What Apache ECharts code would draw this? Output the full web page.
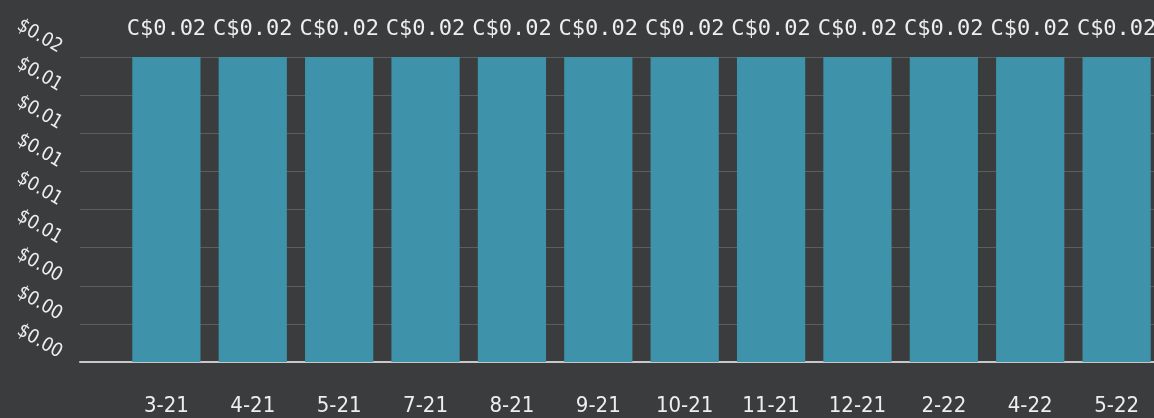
<!DOCTYPE html>
<html style="height: 100%">
<head>
<meta charset="utf-8">
<script src="https://cdn.jsdelivr.net/npm/echarts@6/dist/echarts.min.js"></script>
</head>
<body style="height: 100%; margin: 0; background: #3a3c3d">
<div id="container" style="width: 1154px; height: 418px"></div>
<script type="text/javascript">
// blank slots at both ends, the chart leaves a gap before 3-21 and runs on past 5-22
var months = ['', '3-21', '4-21', '5-21', '7-21', '8-21', '9-21', '10-21', '11-21', '12-21', '2-22', '4-22', '5-22', ''];
var prices = [null, 0.016, 0.016, 0.016, 0.016, 0.016, 0.016, 0.016, 0.016, 0.016, 0.016, 0.016, 0.016, null];

var labelFont = "'DejaVu Sans Condensed', Roboto, sans-serif";

var myChart = echarts.init(document.getElementById('container'));

var option = {
    backgroundColor: '#3a3c3d',
    animation: false,
    grid: {
        left: 80,
        right: -49,
        top: 57,
        bottom: 56,
        outerBoundsMode: 'none'
    },
    xAxis: {
        type: 'category',
        data: months,
        boundaryGap: false,
        axisTick: { show: false },
        axisLine: { lineStyle: { color: '#c8c8c8', width: 2 } },
        axisLabel: {
            color: '#eeeeee',
            fontFamily: labelFont,
            fontSize: 22,
            margin: 33
        }
    },
    yAxis: {
        type: 'value',
        min: 0,
        max: 0.016,
        interval: 0.002,
        axisLine: { show: false },
        axisTick: { show: false },
        splitLine: { lineStyle: { color: '#5c5e5e', width: 1 } },
        axisLabel: {
            color: '#eeeeee',
            fontFamily: labelFont,
            fontSize: 19,
            rotate: -30,
            margin: 24,
            verticalAlign: 'bottom',
            formatter: function (v) {
                return '$' + v.toFixed(2);
            }
        }
    },
    series: [{
        type: 'bar',
        data: prices,
        barCategoryGap: '21%',
        itemStyle: { color: '#3e93ab' },
        label: {
            show: true,
            position: 'top',
            distance: 17,
            color: '#eeeeee',
            fontFamily: 'DejaVu Sans Mono',
            fontSize: 22,
            formatter: function (p) {
                return 'C$' + p.value.toFixed(2);
            }
        }
    }]
};

myChart.setOption(option);
</script>
</body>
</html>
